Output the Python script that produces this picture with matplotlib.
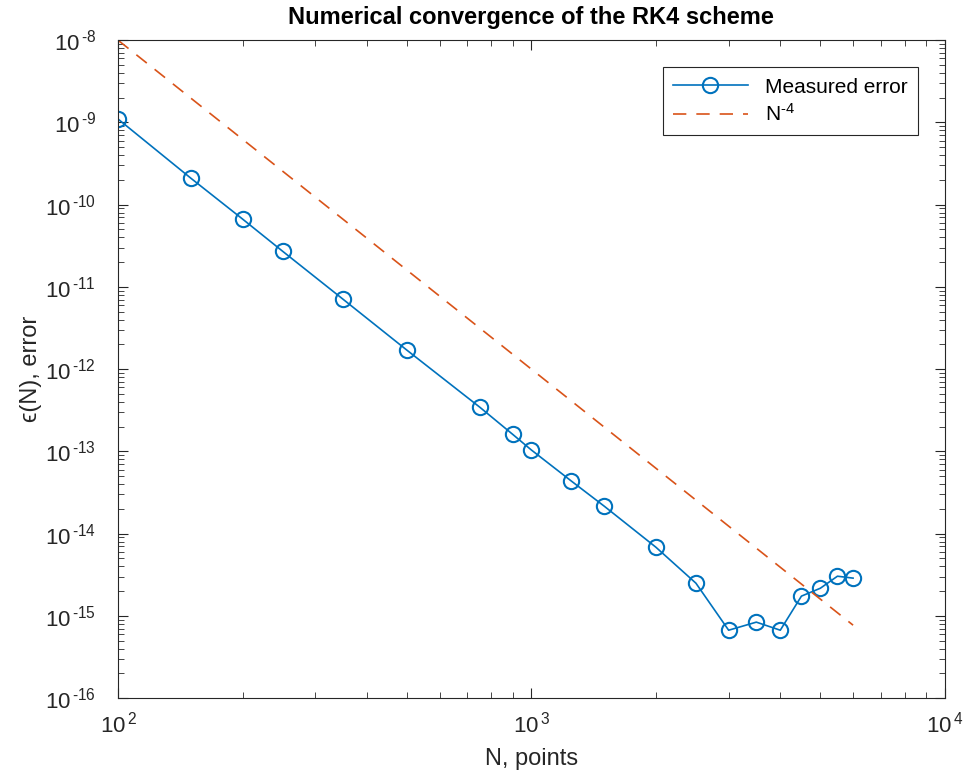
import numpy as np
import matplotlib.pyplot as plt
from matplotlib.ticker import LogLocator, NullFormatter, FuncFormatter

plt.rcParams['font.family'] = ['Liberation Sans', 'DejaVu Sans']
plt.rcParams['mathtext.fontset'] = 'custom'
plt.rcParams['mathtext.rm'] = 'Liberation Sans'
plt.rcParams['mathtext.it'] = 'Liberation Sans:italic'

# Число точек и измеренная ошибка
N_points = [100, 150, 200, 250, 350, 500, 750, 900, 1000, 1250, 1500,
            2000, 2500, 3000, 3500, 4000, 4500, 5000, 5500, 6000]
err_measured = [1.10e-9, 2.1e-10, 6.7e-11, 2.72e-11, 7.1e-12, 1.70e-12,
                3.45e-13, 1.62e-13, 1.04e-13, 4.35e-14, 2.16e-14,
                6.85e-15, 2.5e-15, 6.7e-16, 8.4e-16, 6.7e-16,
                1.74e-15, 2.17e-15, 3.04e-15, 2.88e-15]

# Теоретическая скорость N^-4
N_ref = np.array(N_points, dtype=float)
err_ref = N_ref ** -4.0


def pow_label(v, pos):
    # подпись в стиле MATLAB: "10 -8" с обычным дефисом
    e = int(round(np.log10(v)))
    s = str(e).replace('-', '\u2010')
    return '$10^{\\,' + s + '}$'


fig = plt.figure(figsize=(9.68, 7.74), dpi=100)
ax = fig.add_axes([0.122, 0.098, 0.854, 0.850])

ax.loglog(N_points, err_measured, '-o', color='#0072BD', lw=1.2,
          ms=11, mfc='none', mew=1.5, label='Measured error')
ax.loglog(N_ref, err_ref, '--', color='#D95319', lw=1.2,
          dashes=(8, 6), label='N$^{\u20104}$')

ax.set_xlim(1e2, 1e4)
ax.set_ylim(1e-16, 1e-8)
ax.yaxis.set_major_locator(LogLocator(base=10, numticks=20))
ax.yaxis.set_minor_locator(LogLocator(base=10, subs=np.arange(2, 10), numticks=20))
ax.yaxis.set_minor_formatter(NullFormatter())
ax.xaxis.set_minor_formatter(NullFormatter())
ax.xaxis.set_major_formatter(FuncFormatter(pow_label))
ax.yaxis.set_major_formatter(FuncFormatter(pow_label))

ax.tick_params(which='both', direction='in', top=True, right=True,
               labelsize=16, colors='#262626')
ax.tick_params(which='major', length=7, width=0.8)
ax.tick_params(which='minor', length=4, width=0.6)
ax.tick_params(axis='x', which='major', pad=10)
ax.tick_params(axis='y', which='major', pad=16)
for s in ax.spines.values():
    s.set_linewidth(0.8)
    s.set_color('#262626')

ax.set_xlabel('N, points', fontsize=17, color='#262626', labelpad=7)
ax.set_ylabel('\u03f5(N), error', fontsize=17, color='#262626', labelpad=2)
ax.set_title('Numerical convergence of the RK4 scheme', fontsize=17,
             fontweight='bold', pad=12)

leg = ax.legend(loc='upper right', fontsize=15, fancybox=False,
                edgecolor='#262626', framealpha=1, handlelength=3.6,
                borderaxespad=1.3, borderpad=0.5, labelspacing=0.3)
leg.get_frame().set_linewidth(0.8)

fig.savefig('out.png', dpi=100)
